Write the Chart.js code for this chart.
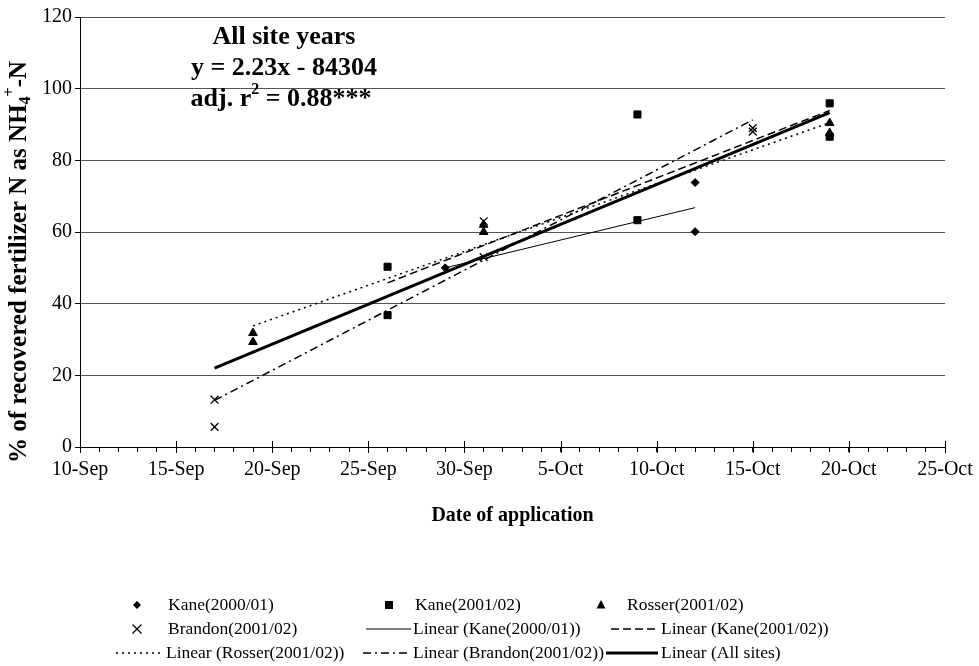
<!DOCTYPE html>
<html>
<head>
<meta charset="utf-8">
<script src="https://cdn.jsdelivr.net/npm/chart.js@4/dist/chart.umd.min.js"></script>
<style>
  html, body { margin: 0; background: #fff; }
  #wrap { width: 979px; height: 666px; }
</style>
</head>
<body>
<div id="wrap"><canvas id="chart"></canvas></div>
<script>
// x axis runs in days counted from 10-Sep, labelled every 5 days
const xTickLabels = ['10-Sep', '15-Sep', '20-Sep', '25-Sep', '30-Sep', '5-Oct', '10-Oct', '15-Oct', '20-Oct', '25-Oct'];

const kane0001Dates = ['29-Sep', '12-Oct', '12-Oct'];
const kane0001Vals  = [50.0, 73.8, 60.1];
const kane0102Dates = ['26-Sep', '26-Sep', '9-Oct', '9-Oct', '19-Oct', '19-Oct'];
const kane0102Vals  = [50.3, 36.8, 92.8, 63.3, 95.9, 86.6];
const rosserDates   = ['19-Sep', '19-Sep', '1-Oct', '1-Oct', '19-Oct', '19-Oct'];
const rosserVals    = [31.8, 29.3, 62.0, 60.0, 90.4, 87.6];
const brandonDates  = ['17-Sep', '17-Sep', '1-Oct', '1-Oct', '15-Oct', '15-Oct'];
const brandonVals   = [13.2, 5.6, 63.0, 53.0, 89.0, 88.0];

// fitted lines: start / end values
const fitKane0001Dates = ['29-Sep', '12-Oct'], fitKane0001Vals = [50.0, 66.8];
const fitKane0102Dates = ['26-Sep', '19-Oct'], fitKane0102Vals = [45.8, 93.9];
const fitRosserDates   = ['19-Sep', '19-Oct'], fitRosserVals   = [33.8, 90.5];
const fitBrandonDates  = ['17-Sep', '15-Oct'], fitBrandonVals  = [13.0, 91.3];
const fitAllDates      = ['17-Sep', '19-Oct'], fitAllVals      = [22.0, 93.3];

const FONT = '"Liberation Serif", "Times New Roman", serif';

function day(s) {
  const [d, m] = s.split('-');
  return m === 'Sep' ? +d - 10 : 20 + +d;
}
function pts(dates, vals) {
  return dates.map((d, i) => ({ x: day(d), y: vals[i] }));
}

const datasets = [
  { label: 'Kane(2000/01)', data: pts(kane0001Dates, kane0001Vals), showLine: false,
    pointStyle: 'rectRot', pointRadius: 4, backgroundColor: '#000', borderColor: '#000', borderWidth: 1 },
  { label: 'Kane(2001/02)', data: pts(kane0102Dates, kane0102Vals), showLine: false,
    pointStyle: 'rect', pointRadius: 5, backgroundColor: '#000', borderColor: '#000', borderWidth: 1 },
  { label: 'Rosser(2001/02)', data: pts(rosserDates, rosserVals), showLine: false,
    pointStyle: 'triangle', pointRadius: 5, backgroundColor: '#000', borderColor: '#000', borderWidth: 1 },
  { label: 'Brandon(2001/02)', data: pts(brandonDates, brandonVals), showLine: false,
    pointStyle: 'crossRot', pointRadius: 5.5, backgroundColor: '#000', borderColor: '#000', borderWidth: 1.3 },
  { label: 'Linear (Kane(2000/01))', data: pts(fitKane0001Dates, fitKane0001Vals), showLine: true,
    pointRadius: 0, borderColor: '#000', borderWidth: 1 },
  { label: 'Linear (Kane(2001/02))', data: pts(fitKane0102Dates, fitKane0102Vals), showLine: true,
    pointRadius: 0, borderColor: '#000', borderWidth: 1.5, borderDash: [8, 4] },
  { label: 'Linear (Rosser(2001/02))', data: pts(fitRosserDates, fitRosserVals), showLine: true,
    pointRadius: 0, borderColor: '#000', borderWidth: 1.5, borderDash: [2, 4] },
  { label: 'Linear (Brandon(2001/02))', data: pts(fitBrandonDates, fitBrandonVals), showLine: true,
    pointRadius: 0, borderColor: '#000', borderWidth: 1.5, borderDash: [8, 4, 2, 4] },
  { label: 'Linear (All sites)', data: pts(fitAllDates, fitAllVals), showLine: true,
    pointRadius: 0, borderColor: '#000', borderWidth: 3 }
];

// draw text made of runs: {t, size, dy}
function runs(ctx, parts, x, y, weight) {
  const w = parts.reduce((s, p) => { ctx.font = weight + ' ' + p.size + 'px ' + FONT; return s + ctx.measureText(p.t).width; }, 0);
  let cx = x - w / 2;
  parts.forEach(p => {
    ctx.font = weight + ' ' + p.size + 'px ' + FONT;
    ctx.fillText(p.t, cx, y + (p.dy || 0));
    cx += ctx.measureText(p.t).width;
  });
}

function marker(ctx, style, x, y) {
  ctx.beginPath();
  if (style === 'rectRot') {
    ctx.moveTo(x - 4, y); ctx.lineTo(x, y - 4); ctx.lineTo(x + 4, y); ctx.lineTo(x, y + 4); ctx.closePath(); ctx.fill();
  } else if (style === 'rect') {
    ctx.rect(x - 4, y - 4, 8, 8); ctx.fill();
  } else if (style === 'triangle') {
    ctx.moveTo(x, y - 5); ctx.lineTo(x + 4.5, y + 3.5); ctx.lineTo(x - 4.5, y + 3.5); ctx.closePath(); ctx.fill();
  } else {
    ctx.lineWidth = 1.2;
    ctx.moveTo(x - 4.5, y - 4.5); ctx.lineTo(x + 4.5, y + 4.5); ctx.moveTo(x + 4.5, y - 4.5); ctx.lineTo(x - 4.5, y + 4.5); ctx.stroke();
  }
}

// legend layout: [dataset index, symbol x (or line start), line end, text x, row y]
const legendSlots = [
  [0, 137, 0, 168, 605], [1, 389, 0, 415, 605], [2, 601, 0, 627, 605],
  [3, 137, 0, 168, 629], [4, 366, 411, 413, 629], [5, 611, 658, 661, 629],
  [6, 116, 163, 166, 653], [7, 363, 411, 413, 653], [8, 606, 658, 661, 653]
];

const decor = {
  id: 'decor',
  afterDraw(chart) {
    const ctx = chart.ctx, xs = chart.scales.x, ys = chart.scales.y;
    ctx.save();
    ctx.fillStyle = '#000'; ctx.strokeStyle = '#000'; ctx.lineWidth = 1;
    // major ticks cross the axis line
    for (let d = 0; d <= 45; d += 5) {
      const px = Math.round(xs.getPixelForValue(d)) + 0.5;
      ctx.beginPath(); ctx.moveTo(px, ys.bottom - 6); ctx.lineTo(px, ys.bottom + 6); ctx.stroke();
    }
    // regression text box
    ctx.textBaseline = 'middle';
    runs(ctx, [{ t: 'All site years', size: 26 }], 284, 37, 'bold');
    runs(ctx, [{ t: 'y = 2.23x - 84304', size: 26 }], 284, 68, 'bold');
    runs(ctx, [{ t: 'adj. r', size: 26 }, { t: '2', size: 16, dy: -9 }, { t: ' = 0.88***', size: 26 }], 281, 99, 'bold');
    // axis titles
    runs(ctx, [{ t: 'Date of application', size: 20 }], (xs.left + xs.right) / 2, 516, 'bold');
    ctx.save();
    ctx.translate(20, 262);
    ctx.rotate(-Math.PI / 2);
    runs(ctx, [{ t: '% of recovered fertilizer N as NH', size: 25 }, { t: '4', size: 16, dy: 6 },
               { t: '+', size: 16, dy: -10 }, { t: '-N', size: 25 }], 0, 0, 'bold');
    ctx.restore();
    // legend
    ctx.textAlign = 'left';
    legendSlots.forEach(([i, x0, x1, tx, y]) => {
      const ds = chart.data.datasets[i];
      if (ds.showLine) {
        ctx.save();
        ctx.lineWidth = ds.borderWidth;
        ctx.setLineDash(ds.borderDash || []);
        ctx.beginPath(); ctx.moveTo(x0, y); ctx.lineTo(x1, y); ctx.stroke();
        ctx.restore();
      } else {
        marker(ctx, ds.pointStyle, x0, y);
      }
      ctx.font = '17.5px ' + FONT;
      ctx.fillText(ds.label, tx, y);
    });
    ctx.restore();
  }
};

new Chart(document.getElementById('chart'), {
  type: 'scatter',
  data: { datasets },
  options: {
    responsive: true, maintainAspectRatio: false, animation: false,
    layout: { padding: { top: 17, right: 34, left: 0, bottom: 0 } },
    plugins: { legend: { display: false }, tooltip: { enabled: false } },
    scales: {
      x: {
        type: 'linear', min: 0, max: 45,
        afterFit: s => { s.height = 666 - 447; },
        border: { color: '#000', width: 1 },
        grid: { drawOnChartArea: false, tickLength: 5, tickColor: '#000' },
        ticks: {
          stepSize: 1, autoSkip: false, maxRotation: 0, padding: 6, color: '#000',
          font: { family: FONT, size: 20 },
          callback: v => (v % 5 === 0 ? xTickLabels[v / 5] : '')
        }
      },
      y: {
        min: 0, max: 120,
        afterFit: s => { s.width = 80; },
        border: { color: '#000', width: 1 },
        grid: { color: '#555', tickLength: 5, tickColor: '#000' },
        ticks: { stepSize: 20, padding: 3, color: '#000', font: { family: FONT, size: 20 } }
      }
    }
  },
  plugins: [decor]
});
</script>
</body>
</html>
